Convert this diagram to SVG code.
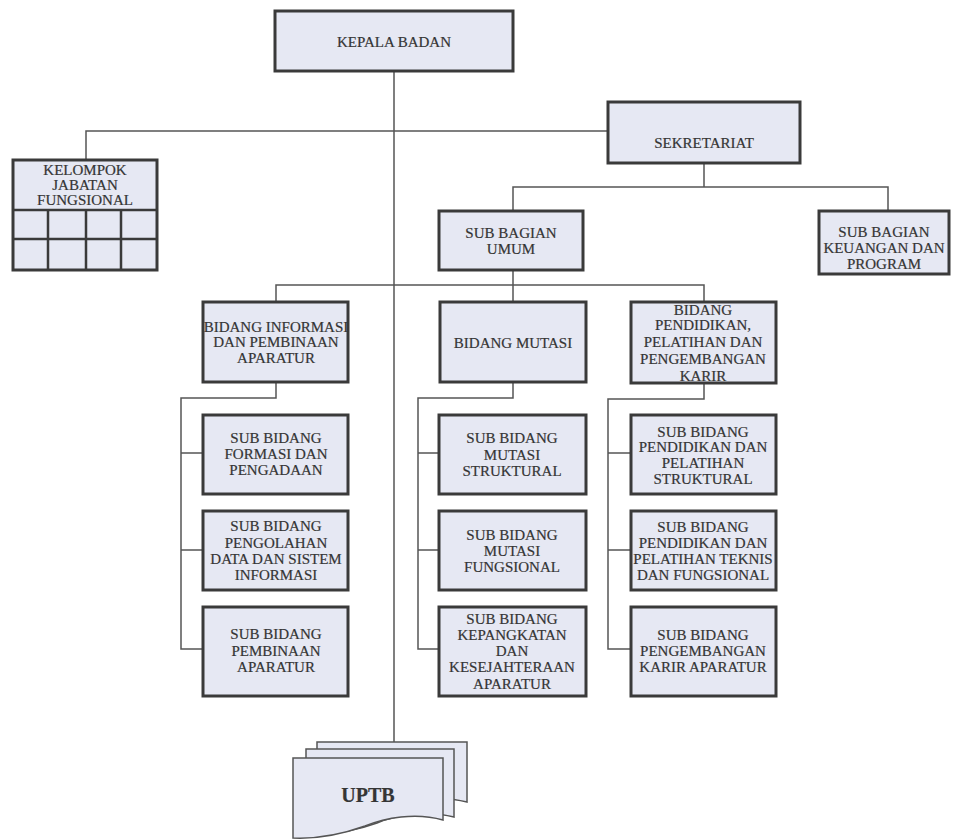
<svg xmlns="http://www.w3.org/2000/svg" width="962" height="839" viewBox="0 0 962 839">
<style>
.box{fill:#e6e8f3;stroke:#3a3a3a;stroke-width:3}
.grid{fill:none;stroke:#3a3a3a;stroke-width:2.5}
.ln{fill:none;stroke:#555;stroke-width:1.5}
.page{fill:#e6e8f3;stroke:#555;stroke-width:1.5}
text{font-family:'Liberation Serif','Times New Roman',serif;font-size:15px;fill:#353535;stroke:#353535;stroke-width:0.2;text-anchor:middle}
.b{font-weight:bold;font-size:20px}
</style>
<rect width="962" height="839" fill="#fff"/>
<g id="connectors">
<path class="ln" d="M394,71 V742"/>
<path class="ln" d="M86,160 V131 H608"/>
<path class="ln" d="M704,163 V187"/>
<path class="ln" d="M513,211 V187 H888 V211"/>
<path class="ln" d="M513,270 V285"/>
<path class="ln" d="M276,302 V285 H704 V302"/>
<path class="ln" d="M513,285 V302"/>
<path class="ln" d="M276,382 V398 H181 V649 H203 M181,453 H203 M181,550 H203"/>
<path class="ln" d="M513,382 V398 H418 V649 H439 M418,453 H439 M418,550 H439"/>
<path class="ln" d="M704,383 V399 H608 V649 H631 M608,453 H631 M608,550 H631"/>
</g>
<g font-family="Liberation Serif, Times New Roman, serif">
<g id="kepala">
<rect class="box" x="275" y="11" width="238" height="60"/>
<text x="394" y="47">KEPALA BADAN</text>
</g>
<g id="sekretariat">
<rect class="box" x="608" y="102" width="192" height="61"/>
<text x="704" y="148">SEKRETARIAT</text>
</g>
<g id="kelompok">
<rect class="box" x="13" y="160" width="144" height="110"/>
<path class="grid" d="M13,210 H157 M13,239 H157 M48,210 V270 M86,210 V270 M121,210 V270"/>
<text x="85" y="175">KELOMPOK</text>
<text x="85" y="190">JABATAN</text>
<text x="85" y="205">FUNGSIONAL</text>
</g>
<g id="subbag-umum">
<rect class="box" x="439" y="211" width="144" height="59"/>
<text x="511" y="238">SUB BAGIAN</text>
<text x="511" y="254">UMUM</text>
</g>
<g id="subbag-keuangan">
<rect class="box" x="819" y="211" width="130" height="63"/>
<text x="884" y="237">SUB BAGIAN</text>
<text x="884" y="253">KEUANGAN DAN</text>
<text x="884" y="269">PROGRAM</text>
</g>
<g id="bidang-informasi">
<rect class="box" x="203" y="302" width="145" height="80"/>
<text x="276" y="332">BIDANG INFORMASI</text>
<text x="276" y="347">DAN PEMBINAAN</text>
<text x="276" y="363">APARATUR</text>
</g>
<g id="bidang-mutasi">
<rect class="box" x="440" y="302" width="146" height="80"/>
<text x="513" y="348">BIDANG MUTASI</text>
</g>
<g id="bidang-pendidikan">
<rect class="box" x="631" y="302" width="145" height="81"/>
<text x="703" y="315">BIDANG</text>
<text x="703" y="330">PENDIDIKAN,</text>
<text x="703" y="347">PELATIHAN DAN</text>
<text x="703" y="364">PENGEMBANGAN</text>
<text x="703" y="381">KARIR</text>
</g>
<g id="sb-formasi">
<rect class="box" x="203" y="415" width="145" height="79"/>
<text x="276" y="443">SUB BIDANG</text>
<text x="276" y="459">FORMASI DAN</text>
<text x="276" y="475">PENGADAAN</text>
</g>
<g id="sb-pengolahan">
<rect class="box" x="203" y="511" width="145" height="79"/>
<text x="276" y="531">SUB BIDANG</text>
<text x="276" y="548">PENGOLAHAN</text>
<text x="276" y="564">DATA DAN SISTEM</text>
<text x="276" y="580">INFORMASI</text>
</g>
<g id="sb-pembinaan">
<rect class="box" x="203" y="607" width="145" height="89"/>
<text x="276" y="639">SUB BIDANG</text>
<text x="276" y="656">PEMBINAAN</text>
<text x="276" y="672">APARATUR</text>
</g>
<g id="sb-mutasi-struktural">
<rect class="box" x="439" y="415" width="147" height="79"/>
<text x="512" y="443">SUB BIDANG</text>
<text x="512" y="460">MUTASI</text>
<text x="512" y="476">STRUKTURAL</text>
</g>
<g id="sb-mutasi-fungsional">
<rect class="box" x="439" y="511" width="147" height="79"/>
<text x="512" y="540">SUB BIDANG</text>
<text x="512" y="556">MUTASI</text>
<text x="512" y="572">FUNGSIONAL</text>
</g>
<g id="sb-kepangkatan">
<rect class="box" x="439" y="607" width="147" height="89"/>
<text x="512" y="624">SUB BIDANG</text>
<text x="512" y="640">KEPANGKATAN</text>
<text x="512" y="656">DAN</text>
<text x="512" y="672">KESEJAHTERAAN</text>
<text x="512" y="689">APARATUR</text>
</g>
<g id="sb-diklat-struktural">
<rect class="box" x="631" y="415" width="145" height="79"/>
<text x="703" y="437">SUB BIDANG</text>
<text x="703" y="452">PENDIDIKAN DAN</text>
<text x="703" y="468">PELATIHAN</text>
<text x="703" y="484">STRUKTURAL</text>
</g>
<g id="sb-diklat-teknis">
<rect class="box" x="631" y="511" width="145" height="79"/>
<text x="703" y="532">SUB BIDANG</text>
<text x="703" y="548">PENDIDIKAN DAN</text>
<text x="703" y="564">PELATIHAN TEKNIS</text>
<text x="703" y="580">DAN FUNGSIONAL</text>
</g>
<g id="sb-karir">
<rect class="box" x="631" y="607" width="145" height="89"/>
<text x="703" y="640">SUB BIDANG</text>
<text x="703" y="656">PENGEMBANGAN</text>
<text x="703" y="672">KARIR APARATUR</text>
</g>
<g id="uptb">
<path class="page" d="M317,742 H467 V802 C440,795 410,800 390,808 C365,817 340,820 317,818 Z"/>
<path class="page" d="M306,749 H454 V817 C427,810 397,815 377,823 C352,832 328,835 306,833 Z"/>
<path class="page" d="M293,758 H443 V820 C415,812 385,818 365,826 C340,835 315,839 293,838 Z"/>
<text class="b" x="368" y="802">UPTB</text>
</g>
</g>
</svg>
